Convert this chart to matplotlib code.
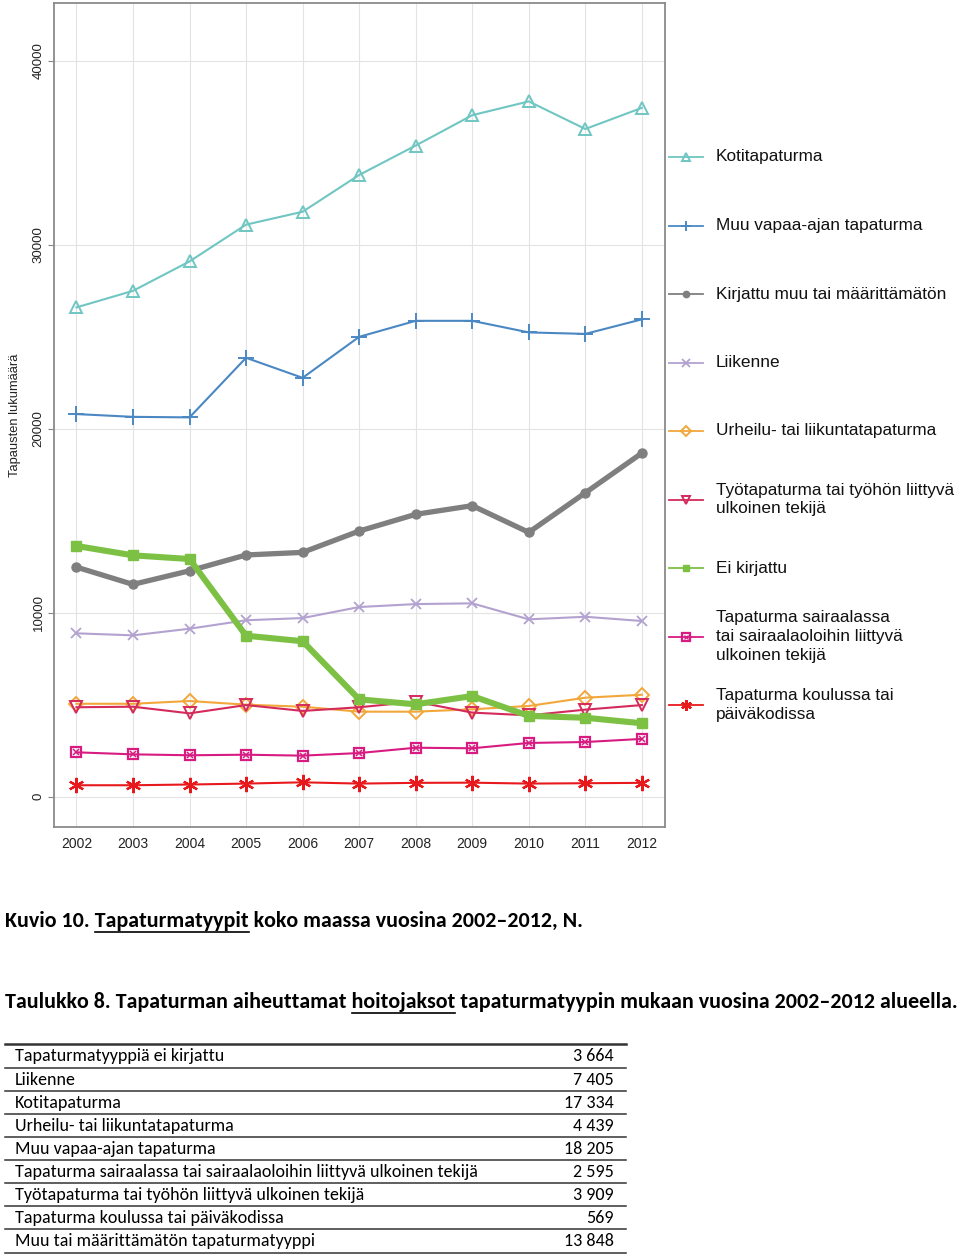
import matplotlib
matplotlib.use("Agg")
import matplotlib.pyplot as plt
from matplotlib.lines import Line2D
from matplotlib import font_manager

# ---------------- data ----------------
years = [2002, 2003, 2004, 2005, 2006, 2007, 2008, 2009, 2010, 2011, 2012]

kotitapaturma = [26600, 27500, 29100, 31100, 31800, 33800, 35400, 37050, 37800, 36300, 37450]
muu_vapaa_aika = [20800, 20650, 20620, 23860, 22770, 25000, 25870, 25870, 25240, 25160, 25950]
kirjattu_muu = [12480, 11540, 12280, 13140, 13280, 14440, 15350, 15820, 14370, 16520, 18680]
liikenne = [8880, 8770, 9130, 9590, 9710, 10310, 10470, 10510, 9640, 9780, 9550]
urheilu = [5050, 5050, 5200, 5000, 4890, 4620, 4620, 4750, 4930, 5380, 5540]
tyotapaturma = [4860, 4890, 4530, 4980, 4660, 4860, 5160, 4570, 4420, 4730, 4980]
ei_kirjattu = [13630, 13120, 12920, 8750, 8450, 5290, 5020, 5470, 4390, 4290, 3990]
sairaala = [2410, 2300, 2250, 2280, 2230, 2370, 2660, 2630, 2920, 2970, 3140]
koulu = [620, 620, 660, 710, 780, 710, 750, 760, 710, 730, 750]

series_labels = [
    "Kotitapaturma",
    "Muu vapaa-ajan tapaturma",
    "Kirjattu muu tai määrittämätön",
    "Liikenne",
    "Urheilu- tai liikuntatapaturma",
    "Työtapaturma tai työhön liittyvä\nulkoinen tekijä",
    "Ei kirjattu",
    "Tapaturma sairaalassa\ntai sairaalaoloihin liittyvä\nulkoinen tekijä",
    "Tapaturma koulussa tai\npäiväkodissa",
]

y_ticks = [0, 10000, 20000, 30000, 40000]

caption1 = "Kuvio 10. Tapaturmatyypit koko maassa vuosina 2002–2012, N."
caption1_ul = ("Kuvio 10. ", "Tapaturmatyypit")
caption2 = "Taulukko 8. Tapaturman aiheuttamat hoitojaksot tapaturmatyypin mukaan vuosina 2002–2012 alueella."
caption2_ul = ("Taulukko 8. Tapaturman aiheuttamat ", "hoitojaksot")

table_labels = [
    "Tapaturmatyyppiä ei kirjattu",
    "Liikenne",
    "Kotitapaturma",
    "Urheilu- tai liikuntatapaturma",
    "Muu vapaa-ajan tapaturma",
    "Tapaturma sairaalassa tai sairaalaoloihin liittyvä ulkoinen tekijä",
    "Työtapaturma tai työhön liittyvä ulkoinen tekijä",
    "Tapaturma koulussa tai päiväkodissa",
    "Muu tai määrittämätön tapaturmatyyppi",
]
table_values = ["3 664", "7 405", "17 334", "4 439", "18 205", "2 595", "3 909", "569", "13 848"]

# ---------------- styles ----------------
W, H = 960, 1254
fig = plt.figure(figsize=(W / 100, H / 100), dpi=100)
renderer = fig.canvas.get_renderer()

avail = {f.name for f in font_manager.fontManager.ttflist}
def pick(cands):
    for c in cands:
        if c in avail:
            return c
    return "DejaVu Sans"
sans = pick(["Liberation Sans", "Arial", "DejaVu Sans"])
cal = pick(["Carlito", "Calibri", "Open Sans", "Lato", "Liberation Sans"])

def fx(px):
    return px / W
def fy(py):
    return 1 - py / H

ax_l, ax_r, ax_t, ax_b = 53.8, 664.5, 3, 827
ax = fig.add_axes([fx(ax_l), fy(ax_b), (ax_r - ax_l) / W, (ax_b - ax_t) / H])

styles = [
    dict(color="#70C6C2", marker="^", ms=8.5, mfc="none", mew=1.4, lw=1.5),
    dict(color="#4B88C3", marker="+", ms=11, mew=1.4, lw=1.5),
    dict(color="#7F7F7F", marker="o", ms=6.5, lw=3.8),
    dict(color="#B3A2CF", marker="x", ms=7.5, mew=1.3, lw=1.5),
    dict(color="#F2A73A", marker="D", ms=7.5, mfc="none", mew=1.4, lw=1.5),
    dict(color="#D42A5B", marker="v", ms=8.5, mfc="none", mew=1.4, lw=1.5),
    dict(color="#7CC143", marker="s", ms=6.5, lw=4.4),
    dict(color="#D81B81", marker="s", ms=7.5, mfc="none", mew=1.6, lw=1.5),
    dict(color="#E8191C", marker=(6, 2, 0), ms=11, mew=1.6, lw=1.5),
]
series = [kotitapaturma, muu_vapaa_aika, kirjattu_muu, liikenne, urheilu,
          tyotapaturma, ei_kirjattu, sairaala, koulu]

for i in range(len(series)):
    ax.plot(years, series[i], zorder=3, **styles[i])
# inner cross of the hospital marker
ax.plot(years, sairaala, ls="none", marker="x", ms=4, mew=1.1, color="#D81B81", zorder=4)

ax.set_xlim(2001.6, 2012.4)
ax.set_ylim(-1650, 43150)
ax.set_xticks(years)
ax.set_yticks(y_ticks)
ax.set_xticklabels([str(y) for y in years], fontsize=10, family=sans)
ax.set_yticklabels([str(v) for v in y_ticks], fontsize=9.5, family=sans,
                   rotation=90, va="center")
ax.tick_params(axis="x", length=0, pad=7, colors="#222222")
ax.tick_params(axis="y", length=4, width=0.8, color="#888888", pad=2.5, labelcolor="#222222")
ax.grid(True, color="#E3E3E3", lw=0.8, zorder=0)
ax.set_axisbelow(True)
for sp in ax.spines.values():
    sp.set_color("#8A8A8A")
    sp.set_linewidth(1.3)
ax.set_ylabel("Tapausten lukumäärä", fontsize=9.3, family=sans, color="#222222")
ax.yaxis.set_label_coords((21 - ax_l) / (ax_r - ax_l), 0.5)

# ---------------- legend (manual, evenly spaced) ----------------
leg_size = 12.0
probe = fig.text(0, 0, "Kirjattu muu tai määrittämätön", fontsize=leg_size, family=sans)
wprobe = probe.get_window_extent(renderer).width
probe.remove()
leg_size = leg_size * 232 / wprobe

for i, lab in enumerate(series_labels):
    yc = 157 + 68.5 * i
    st = dict(styles[i])
    st["ms"] = st["ms"] * 0.7
    fig.add_artist(Line2D([fx(669), fx(703)], [fy(yc), fy(yc)], transform=fig.transFigure,
                          color=st["color"], lw=1.3))
    mst = {k: v for k, v in st.items() if k != "lw"}
    fig.add_artist(Line2D([fx(686)], [fy(yc)], transform=fig.transFigure, ls="none", **mst))
    if i == 7:
        fig.add_artist(Line2D([fx(686)], [fy(yc)], transform=fig.transFigure, ls="none",
                              marker="x", ms=2.8, mew=0.9, color=st["color"]))
    fig.text(fx(716), fy(yc), lab, fontsize=leg_size, family=sans, va="center", ha="left",
             color="#111111", linespacing=1.32)

# ---------------- captions ----------------
def fitted_text(x, y, s, target_w, family, weight="normal", **kw):
    t = fig.text(fx(x), fy(y), s, fontsize=12, family=family, weight=weight, **kw)
    w = t.get_window_extent(renderer).width
    t.set_fontsize(12 * target_w / w)
    return t

def width_of(s, size, family, weight):
    t = fig.text(0, 0, s, fontsize=size, family=family, weight=weight)
    w = t.get_window_extent(renderer).width
    t.remove()
    return w

def underline(t, x0, y_line, prefix, word, family, weight):
    size = t.get_fontsize()
    w1 = width_of(prefix + word, size, family, weight)
    w2 = width_of(word, size, family, weight)
    fig.add_artist(Line2D([fx(x0 + w1 - w2), fx(x0 + w1)], [fy(y_line), fy(y_line)],
                          transform=fig.transFigure, color="black", lw=1.2))

t1 = fitted_text(5, 921, caption1, 579, cal, "bold", va="center", ha="left", color="black")
underline(t1, 5, 932, caption1_ul[0], caption1_ul[1], cal, "bold")
t2 = fitted_text(5, 1002, caption2, 953, cal, "bold", va="center", ha="left", color="black")
underline(t2, 5, 1013, caption2_ul[0], caption2_ul[1], cal, "bold")

# ---------------- table ----------------
line_ys = [1044, 1067.5, 1090.7, 1113.5, 1136.7, 1160, 1183, 1206, 1229.3, 1252.5]
for k, yl in enumerate(line_ys):
    fig.add_artist(Line2D([fx(5), fx(626)], [fy(yl), fy(yl)], transform=fig.transFigure,
                          color="#333333", lw=1.8 if k == 0 else 1.1))
tl = fitted_text(15, 0, table_labels[5], 461, cal, "normal")
tsize = tl.get_fontsize()
tl.remove()
for k, (lab, val) in enumerate(zip(table_labels, table_values)):
    yc = (line_ys[k] + line_ys[k + 1]) / 2 + 0.5
    fig.text(fx(15), fy(yc), lab, fontsize=tsize, family=cal, va="center", ha="left", color="black")
    fig.text(fx(614), fy(yc), val, fontsize=tsize, family=cal, va="center", ha="right", color="black")

fig.savefig("out.png", dpi=100)
